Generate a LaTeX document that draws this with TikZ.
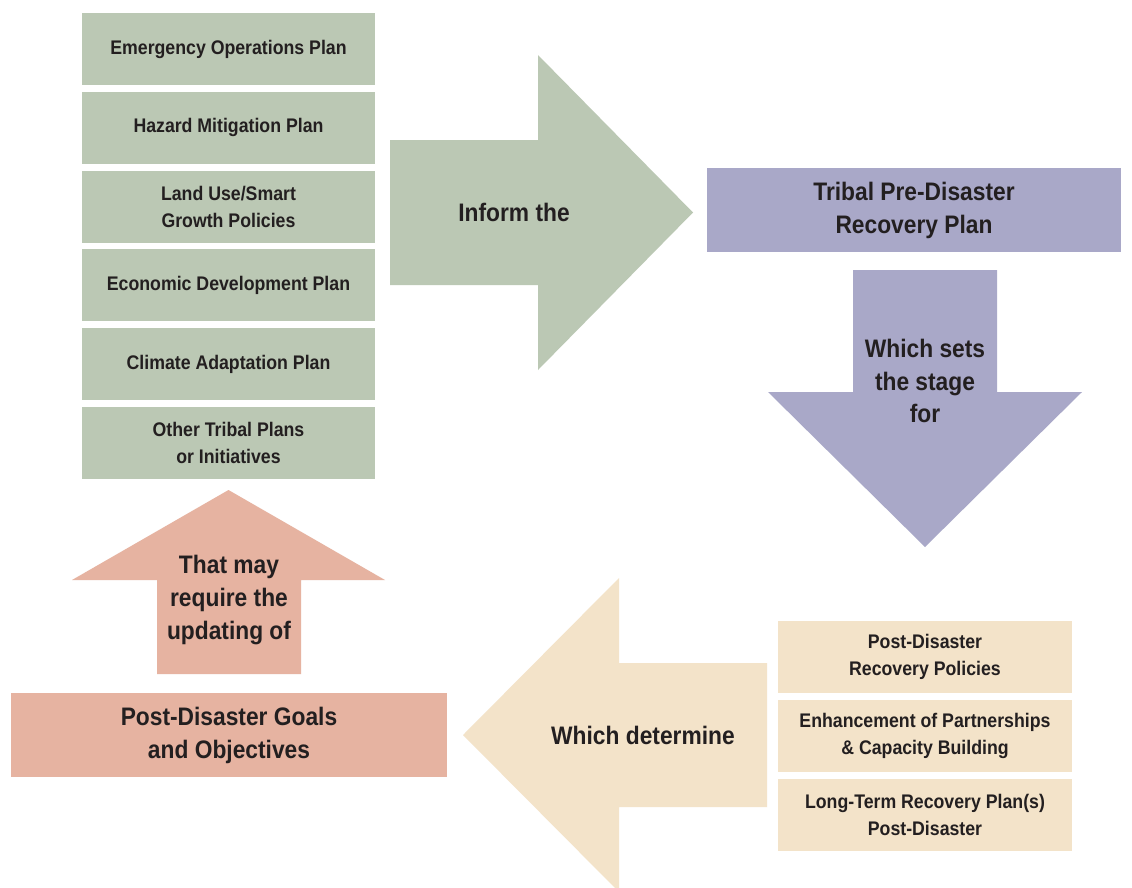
\documentclass[tikz,border=0pt]{standalone}
\usepackage{fontspec}
\setmainfont{Liberation Sans}[FakeStretch=0.9]
\usetikzlibrary{positioning,calc}

\definecolor{planGreen}{HTML}{BBC8B4}
\definecolor{planPurple}{HTML}{A9A8C8}
\definecolor{planSalmon}{HTML}{E6B3A1}
\definecolor{planBeige}{HTML}{F3E3C9}
\definecolor{planText}{HTML}{231F20}

\begin{document}
\begin{tikzpicture}[x=0.025cm,y=-0.025cm,every text node part/.style={align=center}]
\tikzset{smallFont/.style={font=\fontsize{14}{19.2}\selectfont\bfseries,text=planText}}
\tikzset{bigFont/.style={font=\fontsize{18}{23.4}\selectfont\bfseries,text=planText}}
\tikzset{planBox/.style={fill=planGreen,minimum width=7.33cm,minimum height=1.8cm,inner sep=0pt,smallFont}}
\tikzset{outBox/.style={planBox,fill=planBeige}}
\tikzset{bigBox/.style={minimum height=2.1cm,inner sep=0pt,bigFont}}

\clip (0,0) rectangle (1132,888);
\fill[white] (0,0) rectangle (1132,888);

% block arrows
\fill[planGreen] (390,140) -- (538,140) -- (538,55) -- (693,212.5) -- (538,370) -- (538,285) -- (390,285) -- cycle;
\fill[planPurple] (853,270) -- (997,270) -- (997,392) -- (1082,392) -- (925,547) -- (768,392) -- (853,392) -- cycle;
\fill[planBeige] (767,663) -- (619,663) -- (619,578) -- (463,735) -- (619,892) -- (619,807) -- (767,807) -- cycle;
\fill[planSalmon] (157,674) -- (157,580) -- (72,580) -- (228.5,490) -- (385,580) -- (301,580) -- (301,674) -- cycle;

% existing plans
\node[planBox] (eop) at (228.5,49) {Emergency Operations Plan};
\node[planBox,below=0.155cm of eop] (hmp) {Hazard Mitigation Plan};
\node[planBox,below=0.155cm of hmp] (landuse) {Land Use/Smart\\Growth Policies};
\node[planBox,below=0.155cm of landuse] (edp) {Economic Development Plan};
\node[planBox,below=0.155cm of edp] (cap) {Climate Adaptation Plan};
\node[planBox,below=0.155cm of cap] (other) {Other Tribal Plans\\or Initiatives};

% recovery plan and outcomes
\node[bigBox,fill=planPurple,minimum width=10.35cm] (tpdrp) at (914,210) {Tribal Pre-Disaster\\Recovery Plan};
\node[outBox] (policies) at (925,657) {Post-Disaster\\Recovery Policies};
\node[outBox,below=0.155cm of policies] (partner) {Enhancement of Partnerships\\\& Capacity Building};
\node[outBox,below=0.155cm of partner] (longterm) {Long-Term Recovery Plan(s)\\Post-Disaster};
\node[bigBox,fill=planSalmon,minimum width=10.9cm] (goals) at (229,735) {Post-Disaster Goals\\and Objectives};

% arrow labels
\node[bigFont] (inform) at (514,212.5) {Inform the};
\node[bigFont] (sets) at (925,381) {Which sets\\the stage\\for};
\node[bigFont] (determine) at (643,735) {Which determine};
\node[bigFont] (update) at (229,600) {That may\\require the\\updating of};
\end{tikzpicture}
\end{document}
